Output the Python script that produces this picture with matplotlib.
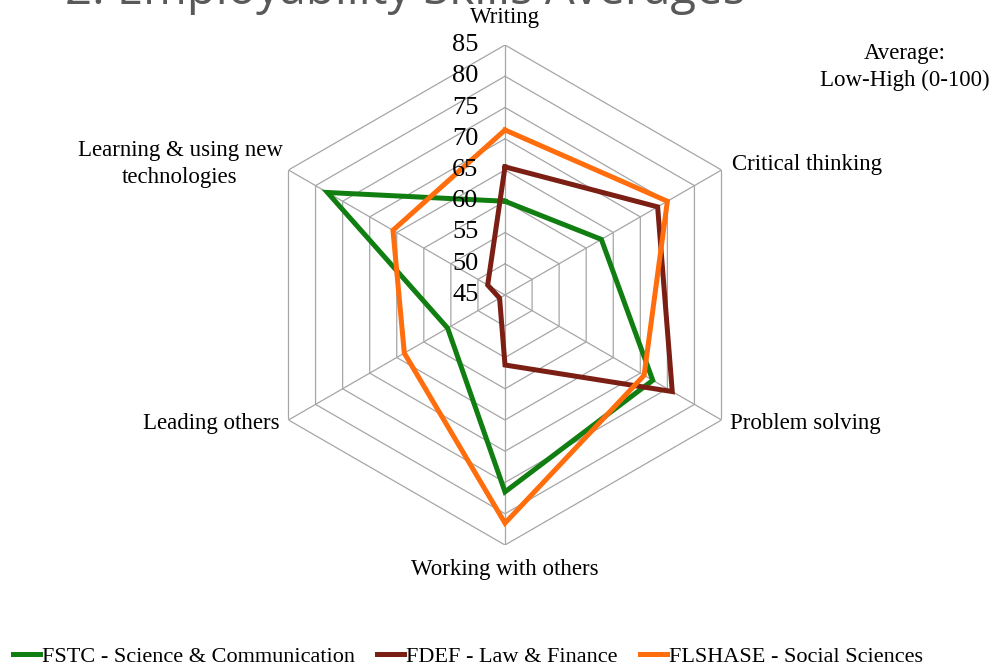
import numpy as np
import matplotlib.pyplot as plt

# Skill averages per faculty (scale 45-85 shown)
skills = ["Writing", "Critical thinking", "Problem solving",
          "Working with others", "Leading others",
          "Learning & using new\ntechnologies"]
fstc = [60.0, 62.8, 72.3, 76.5, 55.6, 77.8]
fdef = [65.5, 73.2, 75.9, 56.2, 46.0, 48.2]
flshase = [71.4, 75.0, 70.7, 81.5, 63.6, 65.7]
series_names = ["FSTC - Science & Communication", "FDEF - Law & Finance",
                "FLSHASE - Social Sciences"]
colors = ["#107E10", "#7B1E14", "#FF6D0C"]
ticks = [45, 50, 55, 60, 65, 70, 75, 80, 85]

W, H = 994, 670
fig = plt.figure(figsize=(W / 100, H / 100), dpi=100)
cx, cy, R = 505, 295, 250
ax = fig.add_axes([(cx - R) / W, (H - cy - R) / H, 2 * R / W, 2 * R / H],
                  projection="polar")
ax.set_theta_offset(np.pi / 2)
ax.set_theta_direction(-1)
ax.set_ylim(ticks[0], ticks[-1])
ax.grid(False)
ax.spines["polar"].set_visible(False)
ax.set_xticks([])
ax.set_yticks([])
ax.patch.set_alpha(0)

n = len(skills)
angles = np.linspace(0, 2 * np.pi, n, endpoint=False)
closed = np.append(angles, angles[0])

# hexagonal rings and spokes
for t in ticks[1:]:
    ax.plot(closed, [t] * (n + 1), color="#A6A6A6", lw=0.9, zorder=1)
for a in angles:
    ax.plot([a, a], [ticks[0], ticks[-1]], color="#A6A6A6", lw=0.9, zorder=1)

handles = []
for vals, c, name in zip([fstc, fdef, flshase], colors, series_names):
    h, = ax.plot(closed, vals + vals[:1], color=c, lw=3.6, label=name,
                 solid_joinstyle="miter", zorder=3)
    handles.append(h)

serif = "Liberation Serif"
# radial tick labels along the top spoke
for t in ticks:
    ax.annotate(str(t), xy=(0, t), xytext=(-19, 0), textcoords="offset points",
                ha="right", va="center", fontsize=19, family=serif, zorder=4)

def ftext(x, y, s, **kw):
    fig.text(x / W, 1 - y / H, s, family=serif, **kw)

fs = 16.5
ftext(505, 18, skills[0], ha="center", va="center", fontsize=fs)
ftext(732, 165, skills[1], ha="left", va="center", fontsize=fs)
ftext(730, 424, skills[2], ha="left", va="center", fontsize=fs)
ftext(505, 569, skills[3], ha="center", va="center", fontsize=fs)
ftext(280, 424, skills[4], ha="right", va="center", fontsize=fs)
ftext(180, 164, skills[5], ha="center", va="center", fontsize=fs,
      linespacing=1.35)
ftext(905, 67, "Average:\nLow-High (0-100)", ha="center", va="center",
      fontsize=fs, linespacing=1.4)

fig.text(405 / W, 1 - (-9) / H, "2. Employability Skills Averages",
         ha="center", va="center", fontsize=34, color="#595959",
         family="Open Sans")

fig.legend(handles=handles, loc="center", bbox_to_anchor=(468 / W, 1 - 657 / H),
           ncol=3, frameon=False, handlelength=1.2, handletextpad=0.1,
           columnspacing=1.0, prop={"family": serif, "size": 16})

fig.savefig("out.png", dpi=100)
plt.close(fig)
